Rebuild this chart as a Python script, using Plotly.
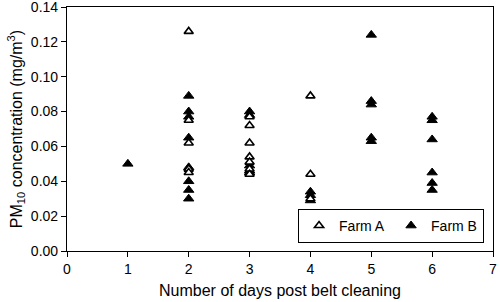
import plotly.graph_objects as go

# Farm A (open triangles)
farm_a_days = [2, 2, 2, 2, 2,
               3, 3, 3, 3, 3, 3, 3,
               4, 4, 4]
farm_a_pm10 = [0.126, 0.075, 0.062, 0.047, 0.045,
               0.077, 0.072, 0.062, 0.054, 0.051, 0.047, 0.044,
               0.089, 0.044, 0.030]

# Farm B (filled triangles)
farm_b_days = [1,
               2, 2, 2, 2, 2, 2, 2, 2,
               3, 3, 3, 3, 3,
               4, 4, 4,
               5, 5, 5, 5, 5,
               6, 6, 6, 6, 6, 6]
farm_b_pm10 = [0.050,
               0.089, 0.080, 0.077, 0.065, 0.048, 0.040, 0.035, 0.030,
               0.080, 0.078, 0.049, 0.046, 0.045,
               0.034, 0.032, 0.029,
               0.124, 0.086, 0.084, 0.065, 0.063,
               0.077, 0.075, 0.064, 0.045, 0.039, 0.035]

x_ticks = [0, 1, 2, 3, 4, 5, 6, 7]
y_ticks = [0.00, 0.02, 0.04, 0.06, 0.08, 0.10, 0.12, 0.14]

font = "Liberation Sans, Arial, Helvetica, sans-serif"

fig = go.Figure()
fig.add_trace(go.Scatter(
    x=farm_b_days, y=farm_b_pm10, mode="markers", name="Farm B",
    legendrank=2,
    marker=dict(symbol="triangle-up", size=9, color="black",
                line=dict(color="black", width=1)),
))
fig.add_trace(go.Scatter(
    x=farm_a_days, y=farm_a_pm10, mode="markers", name="Farm A",
    legendrank=1,
    marker=dict(symbol="triangle-up", size=8, color="white",
                line=dict(color="black", width=1.6)),
))

axis_common = dict(
    showline=True, linecolor="black", linewidth=1.2, mirror=True,
    ticks="outside", ticklen=5, tickcolor="black", tickwidth=1,
    showgrid=False, zeroline=False, automargin=False,
    tickfont=dict(family=font, size=14, color="black"),
)

fig.update_layout(
    width=500, height=302,
    margin=dict(l=67, r=7, t=7, b=51),
    paper_bgcolor="white", plot_bgcolor="white",
    font=dict(family=font, color="black"),
    showlegend=True,
    legend=dict(
        orientation="h", x=0.979, y=0.033, xanchor="right", yanchor="bottom",
        bordercolor="black", borderwidth=1, bgcolor="white",
        font=dict(family=font, size=14, color="black"),
        itemwidth=30, entrywidth=47, entrywidthmode="pixels",
    ),
    xaxis=dict(
        range=[0, 7], tickvals=x_ticks, ticktext=[str(v) for v in x_ticks],
        ticklabeloverflow="allow",
        title=dict(text="Number of days post belt cleaning",
                   font=dict(family=font, size=16, color="black"), standoff=8),
        **axis_common,
    ),
    yaxis=dict(
        range=[0, 0.14], tickvals=y_ticks, tickformat=".2f",
        ticklabeloverflow="allow",
        title=dict(text="PM<sub>10</sub> concentration (mg/m<sup>3</sup>)",
                   font=dict(family=font, size=16, color="black"), standoff=4),
        **axis_common,
    ),
)

fig.write_html("out.html",
               config={"displayModeBar": False},
               post_script="document.body.style.margin='0px';")
